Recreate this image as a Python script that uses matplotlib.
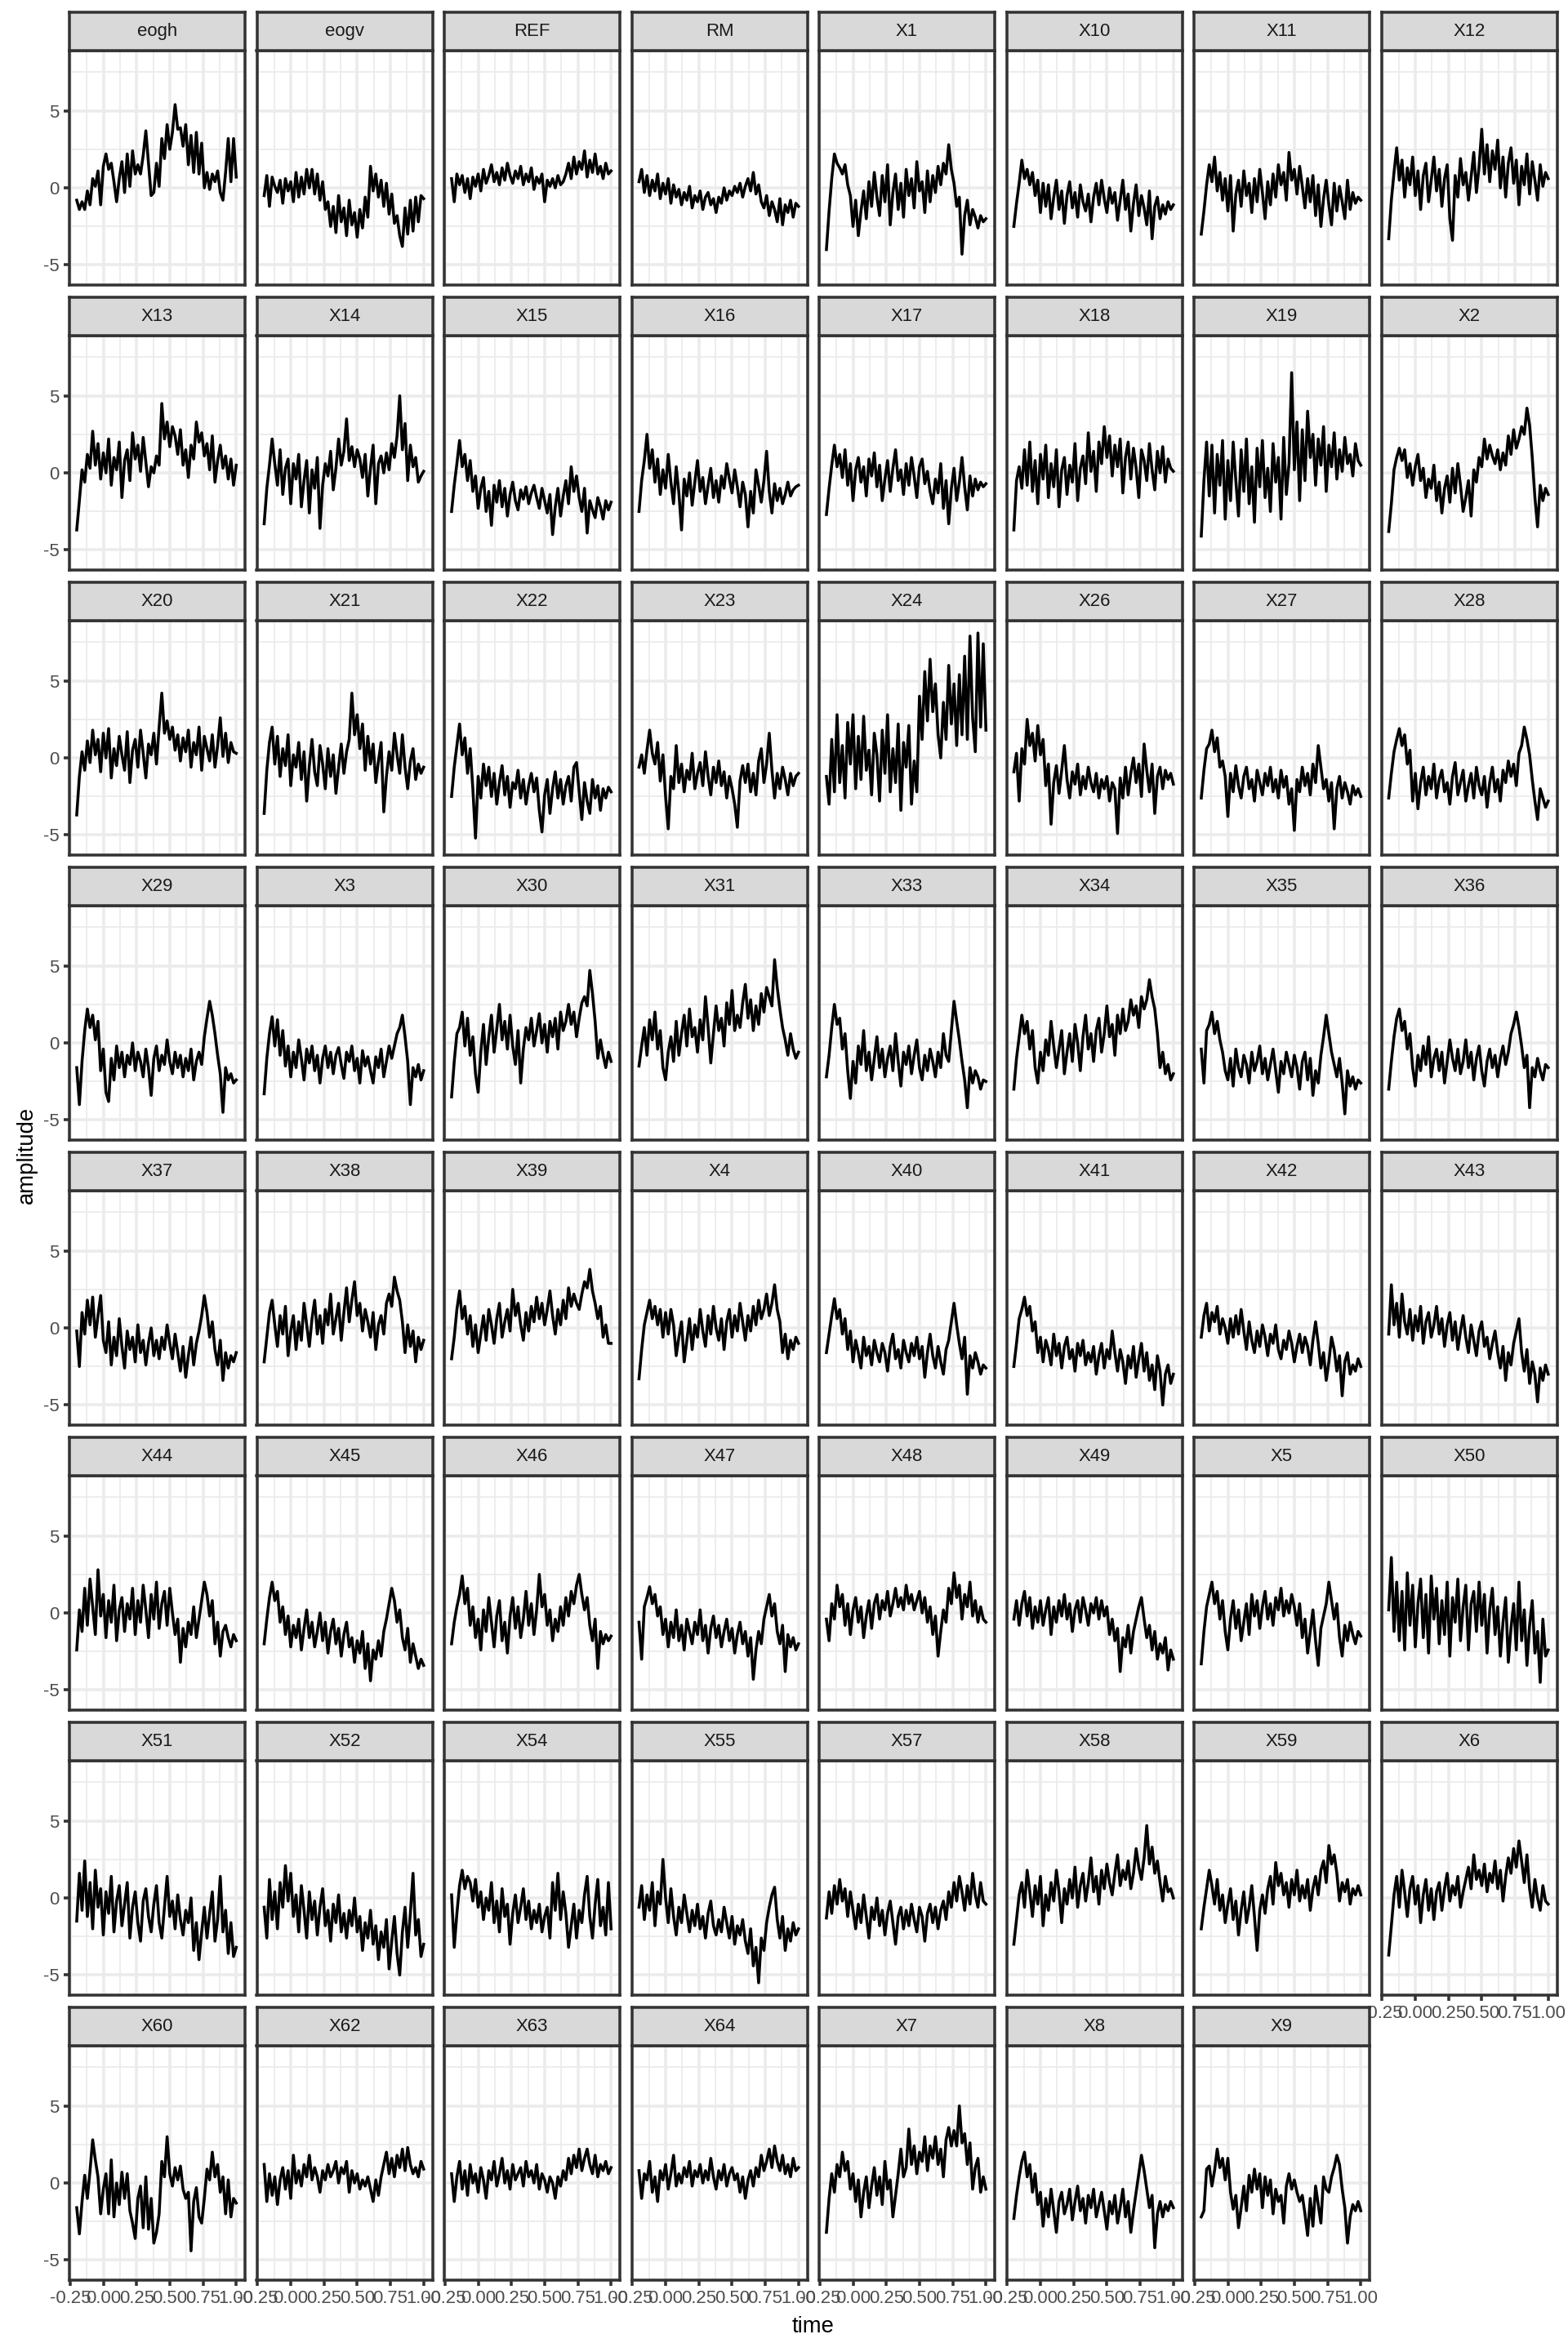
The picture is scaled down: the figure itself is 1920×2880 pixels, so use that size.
import matplotlib
matplotlib.use("Agg")
import matplotlib.pyplot as plt

plt.rcParams['font.family'] = ['Liberation Sans', 'DejaVu Sans']

# sampling times (s), one value every 20 ms
time = [-0.20, -0.18, -0.16, -0.14, -0.12, -0.10, -0.08, -0.06, -0.04, -0.02,
        0.00, 0.02, 0.04, 0.06, 0.08, 0.10, 0.12, 0.14, 0.16, 0.18,
        0.20, 0.22, 0.24, 0.26, 0.28, 0.30, 0.32, 0.34, 0.36, 0.38,
        0.40, 0.42, 0.44, 0.46, 0.48, 0.50, 0.52, 0.54, 0.56, 0.58,
        0.60, 0.62, 0.64, 0.66, 0.68, 0.70, 0.72, 0.74, 0.76, 0.78,
        0.80, 0.82, 0.84, 0.86, 0.88, 0.90, 0.92, 0.94, 0.96, 0.98, 1.00]

eogh = [-0.8, -1.4, -0.9, -1.4, -0.2, -1.1, 0.6, 0.1, 1.1, -1.1,
        1.4, 2.2, 1.2, 1.6, 0.4, -0.9, 0.6, 1.7, -0.3, 2.2,
        0.1, 2.4, 0.9, 1.5, 0.9, 2.1, 3.7, 1.6, -0.5, -0.3,
        1.6, 0.1, 3.2, 1.9, 4.1, 2.5, 3.6, 5.4, 3.8, 3.9,
        2.7, 4.1, 1.5, 3.4, 1.0, 3.6, 0.9, 2.9, 0.0, 1.0,
        -0.1, 0.9, 0.4, 1.1, -0.3, -0.8, 1.0, 3.2, 0.4, 3.2, 0.7]
eogv = [-0.5, 0.8, -1.2, 0.7, 0.1, -0.3, 0.5, -1.0, 0.6, -0.2,
        0.4, -0.9, 1.0, -0.6, 0.7, -0.4, 1.2, 0.0, 1.2, -0.4,
        0.9, -0.8, 0.4, -1.4, -0.9, -2.5, -1.2, -2.9, -0.5, -2.2,
        -1.3, -3.1, -0.8, -2.4, -1.6, -3.2, -1.4, -2.6, -0.6, -1.9,
        1.4, -0.2, 0.9, -0.6, 0.5, -1.2, 0.3, -1.7, -0.4, -2.3,
        -1.8, -3.1, -3.8, -1.3, -3.0, -0.8, -2.8, -0.6, -2.2, -0.5, -0.7]
REF = [0.6, -0.9, 0.9, 0.2, 0.8, -0.3, 0.6, -0.7, 0.7, 0.1,
       0.9, -0.2, 1.2, 0.3, 0.8, 1.5, 0.4, 1.0, 0.2, 1.3,
       0.5, 1.6, 0.8, 0.3, 1.1, 0.6, 1.4, 0.2, 0.9, 0.4,
       1.3, -0.1, 0.7, 0.3, 0.9, -0.9, 0.5, 0.1, 0.6, 0.0,
       0.8, 0.2, 0.4, 0.9, 1.6, 0.6, 2.0, 0.9, 1.7, 1.2,
       2.4, 0.7, 1.8, 1.0, 2.2, 0.9, 1.4, 0.6, 1.6, 0.9, 1.1]
RM = [0.4, 1.2, -0.3, 0.8, -0.5, 0.5, -0.2, 0.9, -0.7, 0.3,
      -0.4, 0.6, -1.0, 0.2, -0.6, -0.1, -1.1, -0.3, -0.8, 0.1,
      -1.3, -0.5, -0.9, -0.2, -1.4, -0.6, -0.3, -1.1, -0.7, -1.6,
      -0.6, -1.0, 0.0, -0.8, -0.2, -0.5, 0.1, -0.3, 0.3, -0.6,
      0.1, 0.6, -0.2, 1.0, -0.4, 0.2, -0.9, -1.3, -0.5, -1.8,
      -0.9, -1.4, -2.2, -0.7, -2.4, -1.1, -1.6, -0.8, -1.9, -1.0, -1.2]
X1 = [-4.0, -1.5, 0.6, 2.2, 1.6, 1.3, 0.9, 1.5, 0.2, -0.5,
      -2.5, -0.8, -3.1, -1.5, -0.2, -2.0, 0.4, -1.2, 1.0, -0.6,
      -1.8, 0.8, -0.9, 1.5, -2.4, -0.3, 0.9, -1.4, 0.3, -1.9,
      1.2, -0.5, 0.6, -1.3, 1.7, -0.2, 0.4, -1.6, 1.1, -0.9,
      0.8, -0.3, 1.4, 0.2, 1.6, 0.9, 2.8, 1.2, 0.3, -1.2,
      -0.6, -4.3, -1.8, -0.8, -2.4, -1.4, -1.9, -2.6, -1.8, -2.2, -2.0]
X10 = [-2.5, -1.0, 0.3, 1.8, 0.6, 1.2, 0.2, 1.0, -0.5, 0.5,
       -1.6, 0.3, -1.2, 0.2, -2.0, -0.6, 0.5, -1.4, -0.2, -2.3,
       -0.5, 0.4, -1.3, -0.3, -1.9, 0.2, -0.9, -1.5, -0.4, -2.2,
       -0.6, 0.3, -1.1, 0.5, -0.7, -1.6, 0.0, -1.0, -0.3, -2.1,
       -0.8, 0.5, -1.4, -0.4, -2.8, -1.0, 0.2, -1.8, -0.5, -1.3,
       -2.4, -0.2, -3.3, -1.2, -0.6, -2.0, -1.1, -1.7, -0.9, -1.4, -1.1]
X11 = [-3.0, -1.5, 0.2, 1.5, 0.4, 2.0, -0.2, 1.0, -0.8, 0.6,
       -1.5, 0.8, -2.8, -0.4, 0.5, -1.2, 1.1, -0.5, 0.3, -1.6,
       0.6, -0.9, 1.2, -0.3, -2.0, 0.4, -1.1, 0.9, -0.6, 1.5,
       0.2, 1.0, -0.8, 2.3, 0.5, 1.2, -0.4, 1.4, 0.1, -1.3,
       0.6, -0.9, 0.8, -1.8, 0.2, -2.5, -0.7, 0.5, -1.1, -2.4,
       0.3, -1.5, 0.1, -0.9, -2.0, 0.5, -1.4, -0.3, -1.0, -0.6, -0.8]
X12 = [-3.3, -0.8, 1.0, 2.6, 0.5, 1.8, -0.6, 1.3, 0.2, 2.0,
       -0.5, 1.1, -1.4, 0.8, 1.6, -0.9, 0.5, 2.0, -0.2, 1.2,
       -1.2, 0.6, 1.5, -2.0, -3.4, 0.8, -0.6, 1.9, 0.2, 1.0,
       -0.8, 0.7, 2.3, -0.3, 1.4, 3.8, 0.9, 2.8, 0.4, 2.4,
       1.2, 3.1, 0.0, 2.0, -0.6, 1.6, 2.6, 0.3, 1.8, -1.1,
       1.4, 0.2, 2.2, -0.4, 1.7, 0.5, -0.8, 1.5, 0.1, 1.0, 0.6]
X13 = [-3.7, -1.8, 0.2, -0.6, 1.2, 0.3, 2.7, 0.5, 1.9, -0.4,
       1.3, 0.0, 2.2, -0.8, 1.0, 0.2, 2.0, -1.6, 0.8, 1.5,
       -0.5, 2.6, 0.9, 1.8, 0.1, 2.3, 0.7, -0.9, 0.4, 0.0,
       1.1, 0.5, 4.5, 2.2, 3.3, 1.7, 3.0, 2.4, 1.2, 2.8,
       0.5, 1.5, -0.3, 1.8, 0.9, 3.3, 2.0, 2.6, 1.1, 1.9,
       0.2, 2.4, -0.6, 0.8, 1.8, 0.3, 1.1, -0.4, 0.9, -0.8, 0.5]
X14 = [-3.3, -1.0, 0.5, 2.2, 0.6, -0.8, 1.5, -1.4, 0.3, 0.9,
       -2.0, 0.6, -0.4, 1.2, -2.2, -0.5, 0.8, -2.6, 0.2, -1.0,
       1.0, -3.6, -0.8, 0.6, -0.2, 1.4, -1.1, 0.3, 2.2, 0.5,
       1.4, 3.5, 0.8, 1.7, 0.4, 1.5, 0.9, -0.3, 1.2, -1.5,
       0.3, 1.8, -2.0, 0.6, 1.1, 0.0, 1.3, 0.2, 1.9, 1.0,
       2.4, 5.0, 1.5, 3.2, -0.5, 1.8, 0.4, 1.0, -0.6, -0.2, 0.1]
X15 = [-2.5, -0.8, 0.6, 2.1, 0.4, 1.2, -0.5, 0.8, -1.2, -0.2,
       -2.3, -1.0, -0.3, -2.5, -1.2, -3.4, -0.8, -1.9, -0.5, -2.2,
       -1.0, -2.8, -1.4, -0.6, -1.8, -2.4, -1.1, -1.7, -0.9, -2.0,
       -1.3, -0.8, -1.6, -2.3, -1.0, -1.8, -2.6, -1.4, -4.0, -2.2,
       -1.0, -2.8, -1.5, -0.5, -2.0, 0.4, -1.2, -0.2, -1.6, -2.5,
       -1.0, -3.9, -1.8, -2.4, -2.9, -1.6, -2.2, -3.0, -1.8, -2.4, -1.9]
X16 = [-2.5, -0.5, 0.8, 2.5, 0.3, 1.5, -0.6, 0.9, -1.4, 0.2,
       -1.0, 1.2, -0.6, -2.0, 0.4, -1.3, -3.7, -0.4, -1.5, 0.0,
       -2.1, -0.6, 0.8, -1.2, -0.3, -2.0, -0.8, 0.3, -1.6, -0.5,
       -1.9, -0.2, -1.0, 0.6, -0.4, -1.3, 0.2, -0.9, -2.2, -0.6,
       -1.4, -3.5, -1.2, -2.6, 0.2, -0.8, -1.9, -0.5, 1.4, -1.2,
       -2.6, -0.7, -1.8, -1.0, -2.0, -1.4, -0.6, -1.5, -1.1, -0.9, -0.8]
X17 = [-2.7, -1.0, 0.5, 1.8, 0.4, 1.2, -0.3, 1.5, -0.8, 0.6,
       -1.8, 0.2, 1.0, -0.6, 0.4, -1.5, 0.9, -0.2, 1.3, -0.9,
       0.5, -1.8, -0.4, 0.8, -1.2, 0.3, 1.5, -0.5, 0.2, -1.4,
       0.6, -0.8, 1.0, -0.2, -1.6, 0.4, 0.9, -0.7, 0.1, -1.2,
       -2.0, -0.4, -1.3, 0.6, -2.3, -0.5, -3.3, -1.0, 0.3, -1.8,
       -0.6, 1.0, -0.9, -2.4, -0.2, -1.5, -0.4, -1.1, -0.6, -0.9, -0.7]
X18 = [-3.7, -0.5, 0.4, -1.0, 1.5, -0.8, 2.0, -1.2, 0.8, -2.0,
       1.2, -0.4, 1.8, -1.6, 0.6, -0.9, 1.5, -2.2, 0.2, 1.0,
       -1.4, 0.5, -0.6, 1.9, -1.8, 0.3, 1.1, -0.7, 2.6, 0.1,
       1.4, -1.2, 2.0, 0.6, 3.0, 1.0, 2.4, -0.2, 1.8, 0.4,
       2.2, -1.3, 1.0, 2.0, -0.4, 1.6, 0.3, -1.6, 1.5, 0.8,
       -0.5, 1.9, 0.2, -1.1, 1.4, 0.0, 1.7, -0.6, 0.9, 0.3, 0.1]
X19 = [-4.1, -0.5, 2.0, -1.5, 1.8, -2.6, 1.2, -0.8, 2.1, -3.0,
       0.8, -1.8, 2.0, -0.5, -2.8, 1.5, -1.2, 2.2, -2.0, 0.4,
       -3.2, 1.6, -0.9, 2.1, -1.6, 0.3, -2.5, 1.9, -0.6, 1.0,
       -3.0, 2.3, -1.4, 0.6, 6.5, 0.2, 3.3, -1.8, 2.8, -0.5,
       4.0, 1.0, 2.5, -0.8, 2.2, 0.5, 3.0, -1.2, 1.8, 0.4,
       2.6, -0.4, 1.5, 0.1, 2.3, 0.6, 1.2, -0.2, 1.9, 0.8, 0.5]
X2 = [-3.8, -2.0, 0.2, 1.0, 1.6, 0.8, 1.5, -0.3, 0.6, -0.8,
      0.4, 1.2, -0.5, 0.3, -1.6, -0.4, -1.0, 0.5, -1.8, -0.6,
      -2.6, -1.0, -0.2, -1.9, 0.3, -1.3, 0.6, -0.8, -2.5, -1.6,
      -0.5, -2.8, 0.2, -0.6, 1.0, 0.4, 2.2, 0.9, 1.8, 1.1,
      0.6, 1.5, 0.2, 1.3, 0.5, 2.4, 1.2, 2.8, 1.6, 2.2,
      3.0, 2.5, 4.2, 3.1, 1.0, -1.6, -3.5, -0.8, -1.8, -1.0, -1.4]
X20 = [-3.7, -1.2, 0.4, -0.8, 1.1, -0.3, 1.8, 0.2, 1.2, -0.9,
       1.6, 0.0, 1.9, -1.3, 0.6, -0.5, 1.4, 0.2, -0.8, 1.7,
       -1.6, 0.5, 1.2, -0.6, 1.8, 0.3, -1.3, 0.9, 0.2, 1.6,
       -0.4, 2.0, 4.2, 1.6, 2.4, 1.2, 2.0, 0.5, 1.5, -0.2,
       1.3, 0.4, 1.8, -0.6, 1.0, 0.2, 2.0, -0.8, 1.4, 0.6,
       -0.2, 1.5, -0.6, 0.8, 2.6, 0.1, 1.6, -0.3, 1.0, 0.4, 0.3]
X21 = [-3.6, -0.8, 1.0, 2.0, -0.4, 1.4, -1.2, 0.6, -0.5, 1.5,
       -1.8, 0.2, -0.6, 1.0, -1.4, 0.4, -2.8, -0.5, 1.2, -0.9,
       -1.8, 0.8, -0.4, -2.0, 0.6, -1.2, 0.2, -2.3, -0.6, 0.9,
       -1.0, 0.4, 1.2, 4.2, 1.5, 2.8, 0.6, 2.2, -0.8, 1.4,
       -0.4, 0.9, -1.6, -0.2, 1.0, -3.5, -1.2, 0.4, -0.8, 1.6,
       0.2, -1.0, 1.5, -0.6, -2.0, -0.2, 0.6, -1.4, -0.4, -1.0, -0.6]
X22 = [-2.5, -0.6, 0.8, 2.2, 0.2, 1.3, -1.0, 0.6, -2.0, -5.2,
       -1.2, -2.6, -0.4, -1.8, -0.6, -2.5, -1.0, -3.0, -1.6, -0.5,
       -2.4, -1.2, -3.2, -1.6, -2.0, -0.8, -2.6, -1.4, -3.0, -1.8,
       -1.0, -2.2, -1.3, -3.4, -4.8, -2.4, -1.4, -3.6, -2.0, -0.9,
       -2.6, -1.4, -3.0, -1.8, -1.2, -2.8, -0.6, -0.3, -2.2, -4.0,
       -1.6, -2.8, -3.6, -1.4, -2.6, -1.8, -3.4, -2.0, -2.6, -1.9, -2.2]
X23 = [-0.6, 0.2, -1.0, 0.5, 1.8, 0.3, -0.4, 1.0, -1.5, 0.2,
       -2.5, -4.6, -1.2, -2.0, 0.8, -1.6, -0.4, -2.2, -0.8, -1.4,
       0.3, -2.0, -1.0, -0.3, -1.8, 0.4, -1.2, -2.4, -0.6, -1.6,
       -0.2, -1.8, -0.9, -2.6, -1.2, -2.0, -3.0, -4.5, -1.5, -0.5,
       -1.6, -0.4, -2.2, -1.0, -2.4, -0.2, 0.6, -1.6, -0.4, 1.6,
       -0.8, -2.6, -1.0, -2.0, -0.6, -1.4, -2.4, -1.0, -1.8, -1.2, -1.0]
X24 = [-1.2, -3.0, 1.2, -2.2, 2.8, -1.6, 0.8, -2.6, 2.3, -0.4,
       2.8, -2.0, 1.4, -1.4, 2.7, -0.8, 0.5, -2.4, 1.6, 0.2,
       -2.8, 1.8, -1.0, 2.8, -2.2, 0.6, -1.6, 2.2, -3.4, 1.0,
       -0.6, 2.1, -3.0, -0.2, -2.2, 4.0, 1.2, 5.6, 2.4, 6.4,
       3.0, 4.8, 1.5, 0.0, 3.6, 1.2, 6.0, 2.2, 4.8, 0.8,
       5.4, 1.5, 6.6, 1.2, 7.9, 2.6, 0.4, 8.1, 2.0, 7.4, 1.8]
X26 = [-0.9, 0.3, -2.8, 0.6, -0.4, 2.5, 0.8, 1.6, -0.2, 2.1,
       0.2, 1.2, -1.8, -0.4, -4.3, -1.6, -0.5, -2.3, -0.8, 0.8,
       -1.4, -2.6, -0.9, -1.7, -0.4, -2.4, -1.2, -2.0, -0.6, -1.6,
       -2.2, -1.0, -2.6, -1.4, -2.0, -1.2, -2.8, -1.6, -2.0, -4.9,
       -1.3, -2.6, -0.6, -2.4, -1.0, 0.0, -1.6, -0.4, -2.5, 0.9,
       -0.8, -2.2, -0.4, -3.6, -1.2, -0.6, -2.0, -0.8, -1.4, -1.0, -1.7]
X27 = [-2.6, -0.8, 0.6, 0.9, 1.8, 0.4, 1.3, -0.6, -0.2, -1.2,
       -3.8, -1.0, -2.2, -0.5, -1.8, -2.6, -1.2, -0.6, -2.0, -1.4,
       -2.8, -0.8, -1.6, -2.4, -1.0, -1.8, -0.6, -2.2, -1.4, -2.6,
       -0.8, -1.9, -1.2, -3.0, -2.0, -4.7, -1.4, -2.2, -0.6, -1.8,
       -1.0, -2.4, -0.4, -1.6, 0.8, -0.6, -2.0, -1.4, -2.8, -1.6,
       -4.6, -2.0, -1.2, -2.6, -1.6, -2.2, -3.0, -1.8, -2.4, -2.0, -2.5]
X28 = [-2.6, -1.0, 0.4, 1.2, 1.9, 0.8, 1.5, -0.4, 0.5, -2.8,
       -1.0, -3.3, -1.6, -0.6, -2.4, -1.2, -2.0, -0.4, -2.6, -1.4,
       -0.8, -2.2, -1.6, -3.0, -1.2, -0.3, -2.4, -1.6, -0.8, -2.8,
       -1.8, -1.0, -2.6, -0.6, -1.8, -2.4, -1.2, -3.2, -1.6, -0.6,
       -2.2, -1.4, -2.8, -0.8, -1.6, -0.2, -1.2, -0.4, -1.8, 0.3,
       0.8, 2.0, 1.2, 0.2, -1.4, -2.8, -4.0, -2.0, -2.6, -3.2, -2.8]
X29 = [-1.6, -4.0, -1.2, 0.8, 2.2, 1.0, 1.8, 0.2, 1.4, -1.8,
       -0.4, -3.2, -3.8, -1.0, -2.4, -0.2, -1.6, -0.6, -2.2, -0.8,
       -1.4, 0.0, -1.8, -0.6, -1.2, -2.2, -0.4, -1.6, -3.4, -1.0,
       -0.2, -1.8, -0.8, -1.4, 0.2, -1.2, -2.0, -0.6, -1.6, -0.8,
       -2.2, -1.0, -1.8, -0.4, -2.4, -1.2, -0.6, -1.4, 0.4, 1.6,
       2.7, 1.8, 0.6, -0.8, -2.0, -4.5, -1.6, -2.4, -2.0, -2.6, -2.4]
X3 = [-3.3, -1.0, 0.6, 1.7, -0.2, 1.5, -0.8, 0.8, -1.5, -0.2,
      -2.2, -0.6, -1.6, 0.2, -1.0, -2.4, -0.4, -1.3, -0.2, -1.8,
      -0.8, -2.6, -1.0, -0.2, -1.6, -0.6, -2.0, -0.8, -0.3, -1.4,
      -2.3, -0.6, -1.2, -0.2, -1.8, -1.0, -2.6, -0.5, -1.5, -0.9,
      -1.8, -2.6, -0.9, -1.6, -0.4, -2.2, -1.2, -0.2, -1.0, -0.2,
      0.6, 1.0, 1.8, 0.4, -1.2, -4.0, -1.6, -2.2, -1.4, -2.4, -1.8]
X30 = [-3.5, -1.2, 0.6, 1.0, 2.0, -0.2, 1.6, -0.8, 0.4, -2.0,
       -3.2, -0.6, 1.2, -1.4, 0.4, 1.8, -0.6, 0.9, 2.5, 0.2,
       1.4, -0.4, 1.8, -0.2, -1.4, 0.8, -2.6, -0.4, 1.0, 0.2,
       1.6, -0.2, 0.8, 1.9, 0.0, 1.2, -0.6, 1.4, 0.4, 1.6,
       -0.4, 2.0, 0.8, 1.4, 2.5, 1.2, 2.0, 0.4, 1.6, 2.6,
       3.0, 2.4, 4.7, 3.2, 1.4, -1.0, 0.2, -0.8, -1.6, -0.6, -1.2]
X31 = [-1.5, -0.2, 1.0, -0.8, 1.5, 0.2, 2.0, -0.4, 0.8, -1.6,
       -2.4, -0.6, 0.4, -1.2, 1.4, -0.8, 0.6, 1.8, -0.2, 2.2,
       0.4, 1.0, -0.6, 1.5, 0.2, 3.0, 1.0, -1.3, 0.6, 2.4,
       0.8, 1.6, -0.2, 2.6, 1.2, 3.4, 0.8, 1.8, 1.0, 2.6,
       3.8, 1.6, 2.8, 0.8, 2.4, 1.2, 3.2, 2.0, 3.6, 3.0,
       2.4, 5.4, 3.6, 2.2, 1.0, 0.2, -0.8, 0.6, -0.4, -1.0, -0.6]
X33 = [-2.2, -0.8, 1.0, 2.5, 1.2, 1.6, -0.4, 0.6, -1.8, -3.6,
       -1.2, -2.6, -0.2, -1.4, 0.8, -1.8, -0.6, -2.4, -1.0, 0.4,
       -1.6, -0.4, -2.2, -1.0, -0.2, -1.8, 0.6, -1.2, -2.8, -0.6,
       -1.4, -0.2, -2.0, -0.8, 0.2, -1.6, -2.4, -0.8, -1.8, -0.4,
       -1.2, -2.2, -0.6, -1.6, 0.6, -0.8, -1.2, 0.8, 2.7, 1.4,
       0.2, -1.2, -2.4, -4.2, -1.6, -2.6, -1.8, -2.2, -3.0, -2.4, -2.5]
X34 = [-3.0, -1.0, 0.4, 1.8, 0.6, 1.4, -0.4, 0.8, -1.6, -2.6,
       -0.6, -1.8, 0.2, -0.8, 1.4, -0.2, -1.6, -0.4, 0.8, -2.0,
       -0.6, 0.6, -1.2, 1.2, 0.0, -1.8, 0.4, 1.8, -0.4, 0.6,
       -1.2, 0.8, 1.6, -0.6, 0.6, 2.4, 0.4, 1.2, -0.8, 1.8,
       0.6, 2.2, 0.8, 1.4, 2.8, 1.8, 2.4, 1.0, 3.0, 2.2,
       2.8, 4.1, 3.0, 2.2, 0.6, -1.6, -0.6, -2.0, -1.4, -2.4, -2.0]
X35 = [-0.4, -2.6, 0.8, 1.2, 2.0, 0.6, 1.4, 0.2, -0.6, -1.8,
       -2.4, -1.0, -2.8, -0.4, -1.6, -2.2, -0.8, -1.4, -2.6, -0.6,
       -1.8, -1.2, -0.2, -2.0, -1.0, -2.4, -1.4, -0.4, -1.8, -3.2,
       -1.2, -2.0, -0.6, -1.4, -2.2, -0.8, -1.6, -3.0, -1.2, -0.6,
       -2.4, -1.0, -3.4, -1.8, -2.6, -0.8, 0.4, 1.8, 0.6, -0.6,
       -1.4, -2.2, -1.0, -2.6, -4.6, -1.8, -2.8, -2.2, -3.0, -2.4, -2.6]
X36 = [-3.0, -1.2, 0.4, 1.6, 2.2, 0.8, 1.4, -0.4, 0.6, -1.6,
       -2.8, -0.8, -1.8, -0.2, -1.4, 0.4, -2.2, -1.0, -0.4, -1.8,
       -0.6, -2.6, -1.2, 0.2, -1.0, -1.8, -0.4, -2.0, -1.2, 0.2,
       -1.6, -0.6, -2.4, -1.0, -0.2, -1.8, -2.8, -1.2, -0.4, -1.6,
       -0.8, -2.2, -1.0, -0.2, -1.4, -0.6, 0.6, 1.2, 2.0, 1.0,
       -0.2, -1.6, -0.8, -4.2, -1.6, -2.2, -1.0, -1.8, -2.4, -1.4, -1.6]
X37 = [-0.2, -2.5, 1.0, -0.4, 1.8, 0.2, 2.0, -0.6, 0.8, 2.1,
       -0.8, -1.6, 0.4, -2.4, -0.6, -1.8, 0.6, -1.2, -2.6, -0.2,
       -1.4, -0.6, -2.2, 0.2, -1.6, -0.8, -2.4, -1.0, 0.0, -1.8,
       -0.8, -2.0, -0.6, -1.4, 0.2, -1.0, -2.0, -0.4, -1.6, -2.8,
       -1.2, -3.2, -1.8, -0.6, -2.4, -1.0, -0.2, 0.8, 2.1, 1.0,
       -0.6, 0.4, -1.4, -2.4, -0.8, -3.4, -1.6, -2.6, -1.8, -2.2, -1.6]
X38 = [-2.2, -0.6, 1.0, 1.8, 0.2, -1.2, 0.8, -0.4, 1.4, -1.8,
       -0.2, 0.8, -1.4, 0.4, -0.8, 1.6, 0.2, -1.2, 0.6, 1.8,
       -0.4, 0.8, -1.0, 1.2, 0.2, 2.2, -0.4, 0.6, 1.6, -0.8,
       1.0, 2.6, 0.4, 1.8, 3.0, 0.8, 1.6, -0.2, 1.2, 0.4,
       -0.6, 1.0, -1.4, 0.2, 0.8, -0.4, 1.6, 2.2, 1.4, 3.3,
       2.4, 1.8, 0.4, -1.6, 0.2, -1.2, -0.2, -2.2, -0.6, -1.4, -0.8]
X39 = [-2.0, -0.6, 1.2, 2.4, 0.6, 1.4, -0.4, 0.8, -1.2, 0.2,
       -1.6, -0.4, 0.8, -0.8, 1.2, 0.2, -1.0, 0.6, 1.6, -0.6,
       0.4, 1.2, -0.2, 2.5, 0.8, 1.6, 0.2, -0.8, 1.0, -0.2,
       1.4, 0.4, 2.0, 0.6, 1.6, 0.2, 1.2, 2.4, 0.8, -0.4,
       1.2, 0.2, 1.8, 0.6, 2.6, 1.4, 2.2, 1.6, 1.2, 2.2,
       3.0, 2.6, 3.8, 2.4, 1.6, 0.6, 1.4, -0.6, 0.2, -1.0, -1.0]
X4 = [-3.3, -1.4, 0.2, 1.0, 1.8, 0.6, 1.4, 0.2, 1.2, -0.6,
      1.0, -0.4, 1.2, 0.2, -1.8, -0.6, 0.4, -2.2, -0.8, 0.6,
      -1.4, 0.2, -0.6, 1.2, -0.2, -1.2, 0.8, -0.4, 1.4, 0.0,
      -0.8, 0.6, -1.4, 0.4, 1.2, -0.6, 0.8, -0.2, 1.6, 0.4,
      -0.8, 0.8, -0.2, 1.4, 0.2, 1.8, 0.6, 1.2, 2.2, 0.8,
      1.6, 2.8, 1.2, 0.4, -1.6, -0.4, -2.0, -0.8, -1.4, -0.6, -1.0]
X40 = [-1.6, -0.4, 0.8, 1.9, 0.6, 1.2, -0.4, 0.6, -1.4, -0.2,
       -2.2, -0.8, -1.6, -2.6, -0.6, -1.8, -1.2, -2.4, -0.8, -1.6,
       -2.2, -1.0, -1.6, -2.8, -1.2, -0.4, -2.0, -1.4, -2.6, -0.8,
       -1.6, -2.2, -1.0, -1.8, -0.6, -2.0, -1.2, -3.2, -1.6, -0.4,
       -1.8, -2.6, -1.2, -2.2, -3.0, -1.4, -0.8, 0.4, 1.6, 0.2,
       -1.0, -2.0, -0.6, -4.3, -1.8, -2.6, -1.6, -2.2, -3.0, -2.4, -2.6]
X41 = [-2.5, -1.0, 0.6, 1.2, 2.0, 0.8, 1.4, -0.2, 0.4, -1.6,
       -0.6, -2.2, -0.8, -1.4, -2.4, -0.4, -1.8, -1.0, -2.6, -1.2,
       -0.6, -2.0, -1.4, -2.8, -1.0, -1.8, -0.8, -2.4, -1.6, -2.2,
       -1.2, -3.0, -1.8, -1.0, -2.6, -1.4, -2.0, -0.2, -1.6, -2.8,
       -1.4, -2.2, -3.6, -1.8, -2.6, -1.2, -3.2, -2.0, -1.0, -2.8,
       -1.6, -3.4, -2.4, -4.0, -1.8, -2.8, -5.0, -3.0, -2.4, -3.6, -3.0]
X42 = [-0.6, 0.8, 1.6, -0.2, 1.0, 0.4, 1.4, -0.4, 0.6, 0.0,
       -1.0, 0.6, -0.6, 0.8, -0.4, 1.2, -0.2, -1.4, 0.4, -0.8,
       -1.6, -0.2, -1.2, 0.2, -0.6, -1.8, -0.4, -1.0, 0.2, -1.4,
       -2.0, -0.8, -1.4, -0.2, -1.0, -2.2, -1.2, -0.4, -1.6, -0.6,
       -1.2, -2.4, -0.8, 0.4, -1.0, -2.6, -1.6, -3.4, -2.2, -0.6,
       -1.4, -2.8, -1.8, -4.4, -2.2, -1.6, -3.0, -2.4, -2.8, -2.0, -2.5]
X43 = [-0.4, 2.8, 0.2, 1.6, -0.6, 2.2, 0.4, -0.4, 1.2, -0.8,
       0.8, -0.2, 1.4, -1.0, 0.4, 1.0, -0.6, 0.2, 1.4, -0.4,
       0.6, -1.2, 0.2, 1.0, -0.8, 0.4, -1.4, -0.2, 0.8, -0.6,
       -1.6, 0.2, -0.8, -1.8, -0.2, 0.4, -1.2, -0.6, -2.0, -1.0,
       -0.2, -1.6, -2.6, -1.2, -3.4, -1.6, -2.4, -1.0, -0.2, 0.6,
       -1.6, -2.8, -1.4, -3.6, -2.2, -3.0, -4.8, -2.6, -3.4, -2.4, -3.0]
X44 = [-2.4, 0.2, -1.2, 1.6, -0.8, 2.2, 0.4, -1.4, 2.8, -0.2,
       1.2, -1.6, 0.8, -0.6, 1.8, -1.8, 0.2, 1.0, -1.2, 0.6,
       -0.4, 1.6, -1.4, 0.8, -0.6, 1.8, 0.2, -1.6, 1.2, -0.4,
       2.0, -1.0, 0.6, 1.4, -0.8, 1.6, 0.0, -1.4, -0.4, -3.2,
       -1.0, -2.2, -0.6, -1.4, 0.4, -1.6, -0.4, 0.8, 2.0, 1.2,
       -0.2, 0.8, -2.0, -0.6, -2.8, -1.2, -0.8, -1.6, -2.2, -1.4, -1.8]
X45 = [-2.0, -0.4, 1.0, 2.0, 0.8, 1.4, -0.6, 0.4, -1.4, -0.2,
       -2.2, -0.8, -1.6, -0.4, -2.4, -1.0, 0.2, -1.6, -0.6, -2.2,
       -1.2, 0.0, -1.8, -0.6, -2.6, -1.2, -0.4, -2.0, -1.0, -2.8,
       -1.4, -0.6, -2.2, -1.6, -3.2, -1.8, -2.6, -1.2, -3.6, -2.0,
       -4.4, -2.4, -3.0, -1.8, -2.8, -1.2, -0.4, 0.6, 1.6, 0.8,
       -0.6, 0.2, -1.6, -2.4, -1.0, -3.2, -2.0, -2.8, -3.6, -3.0, -3.4]
X46 = [-2.0, -0.6, 0.4, 1.2, 2.4, 0.6, 1.6, -0.8, 0.4, -1.6,
       -0.4, -2.4, 0.2, -1.2, 1.0, -0.6, -2.2, -0.2, 0.8, -1.8,
       -0.6, -2.6, -0.2, 1.0, -1.0, 0.4, -1.6, -0.4, 1.4, -0.8,
       0.6, -1.4, 0.2, 2.5, 0.4, 1.2, -0.8, 0.2, -1.8, -0.4,
       -1.2, 0.4, -0.8, 1.0, -0.2, 1.4, 0.6, 1.8, 2.5, 1.2,
       0.2, 1.0, -0.8, -1.8, -0.4, -3.6, -1.2, -2.0, -1.4, -1.8, -1.5]
X47 = [-0.6, -3.0, 0.4, 1.0, 1.7, 0.6, 1.2, -0.2, 0.4, -1.4,
       -0.4, -2.2, -0.6, -1.6, 0.2, -1.8, -0.8, -2.4, -0.4, -1.2,
       -2.0, -0.6, -1.4, 0.2, -1.8, -0.8, -2.6, -1.0, -0.2, -1.6,
       -0.8, -2.2, -1.2, -0.4, -1.8, -1.0, -2.6, -1.4, -0.6, -2.0,
       -1.2, -2.8, -1.6, -4.3, -2.4, -1.2, -2.0, -0.4, 0.4, 1.2,
       -0.2, 0.6, -1.2, -2.0, -0.8, -3.8, -1.4, -2.2, -1.6, -2.4, -2.0]
X48 = [-0.4, -1.8, 0.6, -0.4, 1.8, 0.4, 1.2, -0.8, 0.6, -1.4,
       0.2, 1.0, -0.6, 0.4, -1.6, -0.2, 0.8, -1.0, 0.6, 1.2,
       -0.4, 0.8, 0.2, 1.4, -0.2, 0.6, 1.6, 0.4, 1.0, 0.2,
       1.8, 0.6, 1.2, 0.2, 0.8, 1.4, 0.0, 1.0, -0.6, 0.4,
       -1.4, -0.2, -2.8, -1.2, 0.2, -0.6, 1.6, 0.6, 2.6, 1.0,
       1.8, -0.4, 1.2, 0.4, 2.0, -0.2, 0.8, -0.6, 0.4, -0.4, -0.6]
X49 = [-0.4, 0.8, -0.8, 0.6, 1.4, -0.2, 1.0, -1.0, 0.4, -0.6,
       0.8, -0.8, 0.2, 1.0, -1.4, 0.4, -0.6, 0.8, -0.2, 1.2,
       -0.4, 0.6, -1.2, 0.2, 0.8, -0.6, 1.0, 0.2, -0.8, 0.6,
       0.0, 1.0, -0.4, 0.8, -0.2, 0.4, -1.4, -0.4, -1.8, -1.0,
       -3.8, -1.6, -2.2, -0.8, -2.6, -1.2, -0.4, 0.4, 1.0, -0.4,
       -1.6, -0.8, -2.4, -1.2, -3.0, -2.0, -2.6, -1.6, -3.7, -2.4, -3.0]
X5 = [-3.3, -1.2, 0.4, 1.2, 2.0, 0.6, 1.4, -0.4, 0.8, -1.2,
      -2.4, -0.4, 0.8, -1.0, 0.2, -1.8, -0.6, 0.6, -1.4, 1.2,
      -0.2, 0.8, -1.0, 0.4, 1.4, -0.4, 0.6, -0.8, 1.0, 0.2,
      1.6, -0.2, 0.8, 0.0, 1.2, 0.4, -0.8, 0.6, -1.6, -0.4,
      -2.6, -1.2, 0.2, -1.8, -3.4, -1.0, -0.2, 0.6, 2.0, 0.8,
      -0.4, 0.6, -1.6, -2.8, -0.8, -1.8, -0.6, -1.4, -2.0, -1.2, -1.5]
X50 = [0.2, 3.6, -1.2, 2.0, -1.8, 1.4, -2.4, 2.6, -0.8, 1.8,
       -2.2, 0.6, 2.2, -1.6, 1.2, -2.6, 2.4, -0.4, 1.6, -2.0,
       0.8, -1.4, 2.0, -2.8, 1.0, -0.6, 2.2, -1.8, 0.4, 1.8,
       -2.4, 0.6, 1.4, -1.2, 2.0, -0.8, 1.2, -2.6, 0.2, 1.6,
       -1.4, 0.4, -2.8, -0.6, 1.0, -3.2, -1.0, 0.6, -2.4, 2.0,
       -1.8, 0.2, -3.4, -0.8, 0.8, -2.6, -1.2, -4.5, -0.4, -2.8, -2.4]
X51 = [-1.5, 1.6, -0.8, 2.4, -1.2, 1.0, -2.0, 1.8, -0.6, 0.6,
       -2.4, 0.4, -1.0, 1.4, -2.2, -0.2, 0.8, -1.8, -0.4, 1.0,
       -2.6, -0.6, 0.4, -1.6, -2.8, -0.2, 0.6, -1.2, -2.2, -0.4,
       0.8, -1.6, -2.6, -0.6, 1.4, -1.2, -0.2, -2.0, 0.2, -1.4,
       -2.4, -0.8, -1.6, 0.0, -3.4, -1.6, -4.0, -2.2, -0.6, -2.6,
       -1.0, 0.4, -2.8, -1.4, 1.4, -2.2, -0.8, -3.6, -1.6, -3.8, -3.2]
X52 = [-0.6, -2.6, 1.2, -1.4, 0.4, -2.0, 1.0, -0.6, 2.1, -0.2,
       1.6, -1.2, 0.2, -2.2, 0.8, -0.8, -2.6, 0.4, -1.4, -0.2,
       -2.4, -0.6, 0.6, -1.8, -0.8, -2.8, -0.4, -1.6, 0.2, -2.2,
       -1.0, -2.6, -0.8, -1.8, 0.0, -2.2, -1.2, -3.4, -1.6, -2.6,
       -0.8, -3.0, -1.8, -4.0, -2.2, -3.2, -1.4, -4.6, -2.8, -1.2,
       -3.6, -5.0, -2.2, -0.6, -3.2, -1.0, 1.6, -2.4, -1.4, -3.8, -3.0]
X54 = [0.2, -3.2, -1.0, 0.8, 1.8, 0.6, 1.4, 1.0, -0.2, 1.2,
       -0.6, 0.4, -1.4, 0.0, -0.8, 1.0, -1.6, -0.2, -2.2, 0.6,
       -1.2, -0.4, -3.0, -1.0, 0.2, -1.6, -0.6, 0.6, -1.4, -0.2,
       -2.0, -0.8, -1.6, -0.4, -2.2, -1.2, -0.6, -2.6, 1.0, -0.8,
       1.6, -1.4, 0.4, -1.0, -3.2, -1.8, -0.4, -2.6, -0.8, -1.6,
       0.2, 1.4, -1.2, -2.6, -0.4, 1.2, -1.8, -0.6, -2.4, 1.0, -2.0]
X55 = [-0.6, 0.8, -1.4, 0.2, -0.8, 1.0, -1.8, 0.4, -0.4, 2.5,
       0.0, -1.6, 0.6, -1.2, -2.4, -0.6, -1.6, 0.2, -1.0, -2.2,
       -0.8, -1.8, -0.4, -2.0, -1.2, -2.6, -1.0, -0.2, -1.8, -2.4,
       -1.4, -2.2, -0.6, -1.6, -2.6, -1.2, -3.0, -1.8, -2.4, -1.4,
       -2.8, -3.6, -2.0, -4.4, -3.2, -5.5, -2.6, -3.4, -1.6, -0.6,
       0.2, 0.7, -1.4, -2.6, -1.2, -3.4, -2.0, -2.8, -1.6, -2.4, -2.0]
X57 = [-1.3, 0.4, -1.0, 0.8, -0.4, 1.2, -0.2, 0.6, -1.2, 0.4,
       -0.8, -2.0, -0.4, -1.6, 0.2, -1.2, -2.6, -0.6, -1.4, 0.0,
       -1.8, -0.8, -2.4, -1.0, -0.2, -1.6, -3.0, -1.2, -0.6, -2.0,
       -0.8, -1.8, -0.4, -1.4, -2.2, -0.6, -1.2, -2.8, -1.0, -0.4,
       -1.6, -0.6, -2.0, -0.8, -0.2, -1.4, 0.4, -0.6, 1.0, -0.2,
       1.4, 0.4, -0.8, 0.8, -0.4, 1.6, 0.2, -0.6, 1.0, -0.2, -0.4]
X58 = [-3.0, -1.4, 0.2, 1.0, -0.6, 1.8, 0.4, -1.2, 0.8, -0.4,
       1.4, -1.8, 0.2, -0.8, 1.0, -0.2, 1.8, 0.4, -1.6, 0.6,
       -0.4, 1.2, 0.0, 2.0, -0.6, 0.8, 1.6, -0.2, 1.0, 2.6,
       0.4, 1.4, -0.4, 1.8, 0.6, 2.2, 1.0, 0.2, 1.6, 2.8,
       0.8, 1.8, 1.2, 2.4, 0.6, 1.6, 3.2, 2.0, 1.2, 2.6,
       4.7, 2.2, 3.3, 1.6, 2.4, 1.0, -0.2, 1.4, 0.4, 0.6, 0.0]
X59 = [-2.0, -0.6, 0.6, 1.8, 0.8, -0.4, 1.2, -0.8, 0.2, -1.6,
       -0.4, 0.6, -1.4, -0.2, -2.4, -0.8, 0.4, -1.6, -0.6, 0.8,
       -1.2, -3.4, -0.8, 0.2, -1.0, 0.6, 1.4, -0.4, 2.3, 0.8,
       1.6, 0.2, 1.0, -0.6, 1.2, 0.2, 1.8, -0.2, 0.8, 0.0,
       1.2, -0.8, 0.6, 1.4, 0.2, 1.8, 2.4, 1.0, 3.4, 2.2,
       2.8, 1.6, -0.2, 1.0, 0.4, 1.2, -0.4, 0.6, 0.2, 0.8, 0.2]
X6 = [-3.7, -1.8, 0.2, 1.4, -0.6, 1.8, 0.4, -1.2, 0.6, 1.4,
      -0.4, 0.8, -1.6, 0.2, 1.2, -0.8, 0.6, -1.4, 0.4, 1.0,
      -0.8, 0.6, 1.6, -0.2, 0.8, 0.2, 1.4, -0.6, 0.4, 1.2,
      2.0, 0.6, 2.8, 1.2, 1.8, 0.8, 2.2, 0.4, 1.6, 1.0,
      2.4, 0.6, 1.8, -0.2, 1.4, 2.6, 1.6, 3.2, 2.0, 3.7,
      2.4, 1.0, 2.8, 0.6, -0.6, 1.2, 0.0, -0.8, 0.8, -0.2, -0.4]
X60 = [-1.6, -3.3, -1.2, 0.5, -1.0, 0.8, 2.8, 1.5, 0.4, -2.0,
       -0.4, 0.6, -2.0, 1.5, -2.2, 0.0, -1.4, 0.7, -1.0, 0.6,
       -1.8, -2.6, -3.6, -1.0, -0.2, -2.9, 0.4, -3.0, -1.0, -3.9,
       -3.2, -2.0, 1.4, 0.4, 3.0, 0.6, -0.2, 1.0, 0.2, 1.1,
       -0.4, -1.0, -0.6, -4.4, -1.2, -0.3, -2.2, -2.6, -1.0, 0.9,
       0.2, 2.0, 0.4, 1.2, -0.6, 0.4, -2.0, 0.2, -2.2, -1.0, -1.3]
X62 = [1.2, -1.2, 0.6, -0.8, 0.4, -1.4, 0.2, 1.0, -0.4, 0.8,
       -1.0, 1.8, 0.0, 0.8, -0.2, 1.2, 0.4, 1.8, 0.2, 1.0,
       0.4, -0.6, 0.8, 0.2, 1.2, 0.4, 0.8, 1.4, 0.0, 1.0,
       0.6, 1.4, -0.6, 0.8, 0.0, 0.6, -0.4, 0.2, -0.2, 0.4,
       -0.4, -1.2, 0.2, -0.8, 0.4, 1.2, 2.0, 0.6, 1.6, 0.4,
       1.8, 1.0, 2.2, 0.8, 2.3, 1.2, 0.6, 1.0, 0.4, 1.4, 0.9]
X63 = [0.6, -1.2, 0.4, 1.4, -0.4, 0.8, -0.8, 1.2, 0.0, 0.6,
       -0.6, 1.0, 0.2, -1.0, 0.8, 0.2, 1.4, -0.2, 0.6, 1.6,
       0.0, 0.8, -0.4, 1.2, 0.2, 0.6, 1.0, -0.2, 1.4, 0.4,
       0.8, 0.0, 1.2, -0.4, 0.6, 0.2, -0.6, 0.4, 0.0, -1.0,
       0.4, -0.2, 0.8, 0.2, 1.6, 0.6, 1.8, 1.0, 2.2, 0.8,
       1.6, 2.2, 1.2, 0.6, 1.8, 0.4, 1.2, 0.8, 1.4, 0.6, 1.0]
X64 = [0.8, -1.0, 0.6, 0.2, 1.4, -0.6, 0.4, -1.2, 0.8, 0.2,
       1.2, -0.4, 0.6, 1.8, -0.2, 0.6, 0.0, 1.0, 0.4, 1.4,
       -0.2, 0.8, 0.4, 1.2, 0.0, 0.8, 0.2, 1.6, 0.4, -0.4,
       0.8, 0.2, 1.2, -0.2, 0.6, 1.0, 0.2, 0.6, -0.6, 0.4,
       -1.0, 0.2, 0.8, -0.2, 1.0, 0.4, 1.8, 0.8, 1.4, 2.2,
       1.0, 2.4, 1.4, 0.8, 1.8, 0.6, 1.2, 0.4, 1.6, 0.8, 1.0]
X7 = [-3.2, -1.0, 0.6, -0.6, 1.2, 0.4, 2.0, 0.8, 1.4, -0.4,
      0.6, -1.2, 0.2, -2.2, -0.6, 0.4, -1.6, -0.2, 1.0, -0.8,
      0.4, -1.4, 1.4, -0.4, 0.2, -2.2, -0.8, 0.6, 2.2, 0.4,
      1.0, 3.5, 1.2, 2.4, 0.6, 2.0, 1.4, 3.0, 0.8, 2.4,
      1.6, 3.0, 1.2, 2.2, 0.4, 2.8, 3.6, 2.4, 3.4, 2.4,
      5.0, 2.6, 3.2, 1.2, 2.6, -0.4, 1.0, 1.6, -0.6, 0.4, -0.4]
X8 = [-2.3, -0.8, 0.4, 1.4, 2.0, 0.4, 1.2, -0.6, 0.6, -1.4,
      -0.6, -2.8, -1.0, -2.2, -0.4, -1.8, -3.2, -1.2, -0.6, -2.0,
      -1.4, -0.4, -2.4, -1.2, -0.2, -1.8, -1.0, -2.6, -0.8, -1.6,
      -0.4, -2.2, -1.4, -0.6, -1.8, -3.0, -1.2, -2.0, -0.8, -2.6,
      -1.6, -0.4, -2.2, -1.2, -3.2, -1.8, -0.6, 0.6, 1.8, 0.8,
      -0.4, -1.6, -0.8, -4.2, -2.0, -1.2, -2.2, -1.4, -1.8, -1.2, -1.6]
X9 = [-2.2, -1.8, 0.9, 1.1, -0.2, 0.8, 2.2, 1.0, 1.6, 0.2,
      1.6, -0.6, -1.7, -0.8, -2.9, -1.6, -0.2, -1.8, 0.5, -0.6,
      0.9, -0.4, 0.6, -1.6, 0.4, -0.8, 0.2, -2.0, -0.4, -1.2,
      -0.8, -2.6, -0.2, 0.6, -0.4, 0.2, -0.6, -1.2, -0.8, -2.0,
      -3.4, -1.0, -2.8, -0.2, -1.4, -2.6, 0.4, -0.4, -0.6, 0.4,
      1.0, 1.8, 1.2, -0.4, -1.6, -3.9, -2.2, -1.4, -1.8, -1.2, -1.8]

channels = ["eogh", "eogv", "REF", "RM", "X1", "X10", "X11", "X12",
            "X13", "X14", "X15", "X16", "X17", "X18", "X19", "X2",
            "X20", "X21", "X22", "X23", "X24", "X26", "X27", "X28",
            "X29", "X3", "X30", "X31", "X33", "X34", "X35", "X36",
            "X37", "X38", "X39", "X4", "X40", "X41", "X42", "X43",
            "X44", "X45", "X46", "X47", "X48", "X49", "X5", "X50",
            "X51", "X52", "X54", "X55", "X57", "X58", "X59", "X6",
            "X60", "X62", "X63", "X64", "X7", "X8", "X9"]
series = [eogh, eogv, REF, RM, X1, X10, X11, X12,
          X13, X14, X15, X16, X17, X18, X19, X2,
          X20, X21, X22, X23, X24, X26, X27, X28,
          X29, X3, X30, X31, X33, X34, X35, X36,
          X37, X38, X39, X4, X40, X41, X42, X43,
          X44, X45, X46, X47, X48, X49, X5, X50,
          X51, X52, X54, X55, X57, X58, X59, X6,
          X60, X62, X63, X64, X7, X8, X9]

xticks = [-0.25, 0.00, 0.25, 0.50, 0.75, 1.00]
xlabels = ["-0.25", "0.00", "0.25", "0.50", "0.75", "1.00"]
yticks = [-5, 0, 5]
ylabels = ["-5", "0", "5"]

# layout in pixels of the 1920x2880 output
W, H = 1920, 2880
NCOL = 8
LEFT0, COLSTEP, PW = 85, 229.5, 215
TOP0, ROWSTEP, PH, SH = 62, 349, 287, 47
LW = 1.7
FS = 10.6


def box(left, top, w, h):
    return [left / W, 1 - (top + h) / H, w / W, h / H]


fig = plt.figure(figsize=(W / 150, H / 150), dpi=150)
n = len(channels)

for k, (name, vals) in enumerate(zip(channels, series)):
    r, c = divmod(k, NCOL)
    left = LEFT0 + COLSTEP * c
    top = TOP0 + ROWSTEP * r
    ax = fig.add_axes(box(left, top, PW, PH))
    m = min(len(time), len(vals))
    ax.plot(time[:m], vals[:m], color="black", lw=LW, solid_joinstyle="round")
    ax.set_xlim(-0.255, 1.066)
    ax.set_ylim(-6.3, 8.9)
    ax.set_xticks(xticks, labels=xlabels)
    ax.set_xticks([-0.125, 0.125, 0.375, 0.625, 0.875], minor=True)
    ax.set_yticks(yticks, labels=ylabels)
    ax.set_yticks([-2.5, 2.5, 7.5], minor=True)
    ax.grid(which="major", color="#EBEBEB", lw=LW)
    ax.grid(which="minor", color="#EBEBEB", lw=LW / 2)
    ax.set_axisbelow(True)
    ax.tick_params(which="minor", length=0)
    ax.tick_params(which="major", length=3.3, width=LW, color="#333333",
                   labelsize=FS, labelcolor="#4D4D4D", pad=2.6)
    for sp in ax.spines.values():
        sp.set_color("#333333")
        sp.set_linewidth(LW)
    if c != 0:
        ax.tick_params(axis="y", left=False, labelleft=False)
    if k + NCOL < n:
        ax.tick_params(axis="x", bottom=False, labelbottom=False)

    sax = fig.add_axes(box(left, top - SH, PW, SH))
    sax.set_facecolor("#D9D9D9")
    sax.set_xticks([])
    sax.set_yticks([])
    for sp in sax.spines.values():
        sp.set_color("#333333")
        sp.set_linewidth(LW)
    sax.text(0.5, 0.5, name, ha="center", va="center", fontsize=FS,
             color="#1A1A1A", transform=sax.transAxes)

fig.text(995.8 / W, 1 - 2849 / H, "time", ha="center", va="center",
         fontsize=13.2, color="black")
fig.text(33 / W, 1 - 1414 / H, "amplitude", ha="center", va="center",
         rotation=90, fontsize=13.2, color="black")

fig.savefig("out.png", dpi=150)
